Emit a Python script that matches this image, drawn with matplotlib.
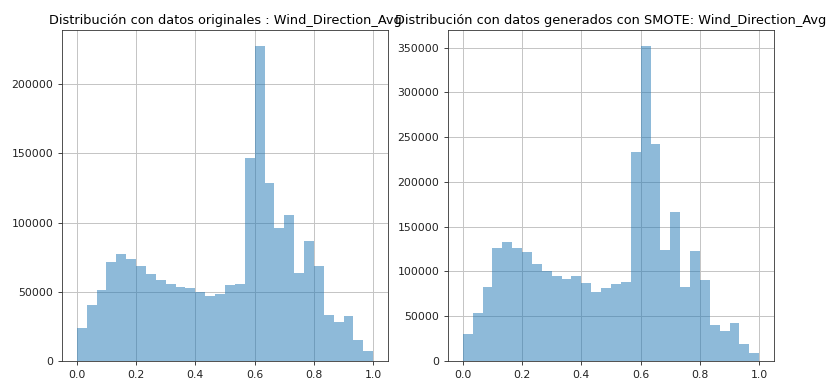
import numpy as np
import matplotlib
matplotlib.use("Agg")
import matplotlib.pyplot as plt

edges = np.linspace(0, 1, 31)
original_counts = [24000, 40600, 51200, 71400, 77200, 73800, 68800, 62700, 58400, 55300,
                   53400, 52600, 50000, 46600, 48600, 54600, 55800, 146900, 227700, 128600,
                   95900, 105300, 63700, 87000, 68800, 33200, 27900, 32700, 15100, 7500]
smote_counts = [29800, 54000, 83000, 125800, 132900, 125800, 121400, 108300, 100500, 95300,
                92000, 94900, 87500, 77400, 81200, 86400, 88600, 233400, 352200, 242700,
                124000, 166000, 83000, 123200, 90500, 40200, 33100, 42800, 19000, 8600]
titles = ["Distribución con datos originales : Wind_Direction_Avg",
          "Distribución con datos generados con SMOTE: Wind_Direction_Avg"]

centers = (edges[:-1] + edges[1:]) / 2
fig = plt.figure(figsize=(8.31, 3.84), dpi=100)
ax1 = fig.add_axes([62/831, 1 - 361/384, 326/831, 331/384])
ax2 = fig.add_axes([448/831, 1 - 361/384, 326/831, 331/384])
for ax, counts, title in zip([ax1, ax2], [original_counts, smote_counts], titles):
    ax.hist(centers, bins=edges, weights=counts, alpha=0.5, color="#1f77b4")
    ax.grid(True, color="#c4c4c4", linewidth=0.7)
    ax.set_axisbelow(True)
    ax.set_title(title, fontsize=9.3, pad=4)
    ax.tick_params(labelsize=7.8, length=2.8, width=0.6, colors="#222222")
    ax.set_xticks([0.0, 0.2, 0.4, 0.6, 0.8, 1.0])
    for s in ax.spines.values():
        s.set_linewidth(0.6)
        s.set_color("#333333")
fig.savefig("out.png", dpi=100)
